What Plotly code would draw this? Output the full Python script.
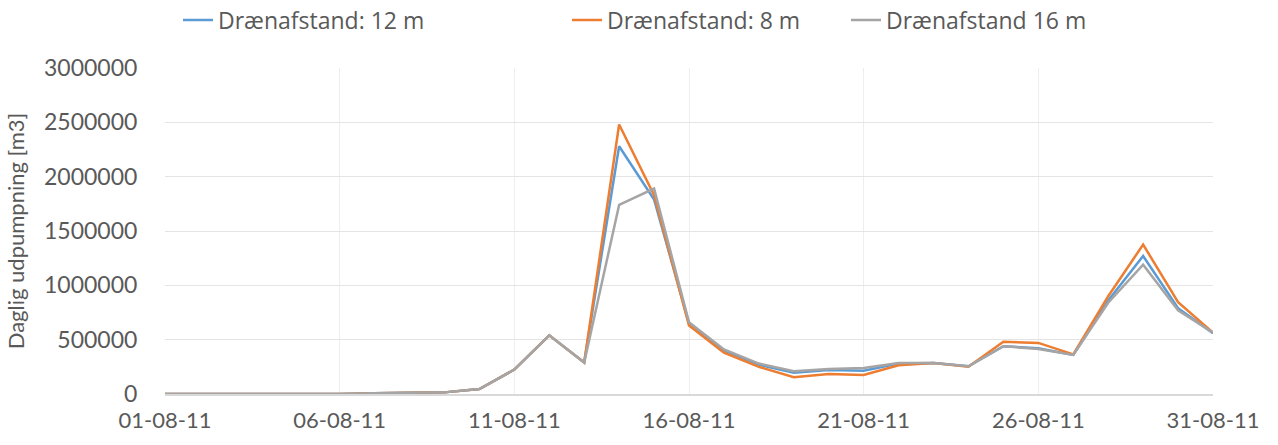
import plotly.graph_objects as go
import pandas as pd

dates = pd.date_range("2011-08-01", "2011-08-31", freq="D").strftime("%Y-%m-%d").tolist()

series_names = ["Drænafstand: 12 m", "Drænafstand: 8 m", "Drænafstand 16 m"]

drain_12m = [0, 0, 0, 0, 0, 0, 8000, 10000, 15000, 45000, 225000, 540000, 290000,
             2280000, 1790000, 650000, 400000, 270000, 195000, 220000, 215000,
             280000, 285000, 255000, 440000, 420000, 360000, 860000, 1270000, 790000, 560000]
drain_8m = [0, 0, 0, 0, 0, 0, 8000, 10000, 15000, 45000, 225000, 540000, 290000,
            2480000, 1830000, 630000, 380000, 250000, 155000, 185000, 175000,
            265000, 285000, 250000, 480000, 470000, 365000, 900000, 1375000, 845000, 565000]
drain_16m = [0, 0, 0, 0, 0, 0, 8000, 10000, 15000, 45000, 225000, 540000, 290000,
             1740000, 1890000, 660000, 410000, 280000, 210000, 230000, 240000,
             285000, 285000, 255000, 440000, 415000, 360000, 840000, 1190000, 770000, 565000]

y_ticks = [0, 500000, 1000000, 1500000, 2000000, 2500000, 3000000]

colors = ["#5B9BD5", "#ED7D31", "#A5A5A5"]
font_family = "Lato, 'Open Sans', sans-serif"
legend_font = "'Open Sans', Lato, sans-serif"
text_color = "#595959"

fig = go.Figure()
for name, vals, col, leg in zip(series_names, [drain_12m, drain_8m, drain_16m], colors,
                                ["legend", "legend2", "legend3"]):
    fig.add_trace(go.Scatter(x=dates, y=vals, mode="lines", name=name,
                             line=dict(color=col, width=2.5), legend=leg))


def leg(xpx):
    return dict(orientation="h", x=xpx / 1278, y=1 - 20 / 445, xanchor="left", yanchor="middle",
                xref="container", yref="container", bgcolor="rgba(0,0,0,0)",
                font=dict(family=legend_font, size=23, color=text_color),
                itemwidth=30, tracegroupgap=0)


fig.update_layout(
    width=1278, height=445,
    margin=dict(l=165, r=65, t=68, b=51, autoexpand=False),
    paper_bgcolor="white", plot_bgcolor="white",
    font=dict(family=font_family, color=text_color),
    showlegend=True,
    legend=leg(178),
    legend2=leg(567),
    legend3=leg(846),
    xaxis=dict(
        type="date", range=["2011-08-01", "2011-08-31"],
        tick0="2011-08-01", dtick=5 * 86400000, tickformat="%d-%m-%y",
        showgrid=True, gridcolor="#EEEEEE", gridwidth=1,
        showline=True, linecolor="#D9D9D9", linewidth=1.5,
        ticks="outside", ticklen=6, tickcolor="rgba(0,0,0,0)",
        tickfont=dict(family=font_family, size=22, color=text_color),
        zeroline=False, automargin=False,
    ),
    yaxis=dict(
        range=[0, 3000000], tickvals=y_ticks, ticktext=[str(v) for v in y_ticks],
        showgrid=True, gridcolor="#E4E4E4", gridwidth=1,
        zeroline=False, showline=False,
        ticks="outside", ticklen=22, tickcolor="rgba(0,0,0,0)",
        tickfont=dict(family=font_family, size=23, color=text_color),
        title=dict(text="Daglig udpumpning [m3]", font=dict(family=font_family, size=22, color=text_color),
                   standoff=13),
        automargin=False,
    ),
)

fig.write_html("out.html", config={"displayModeBar": False},
               post_script="document.body.style.margin='0';")
